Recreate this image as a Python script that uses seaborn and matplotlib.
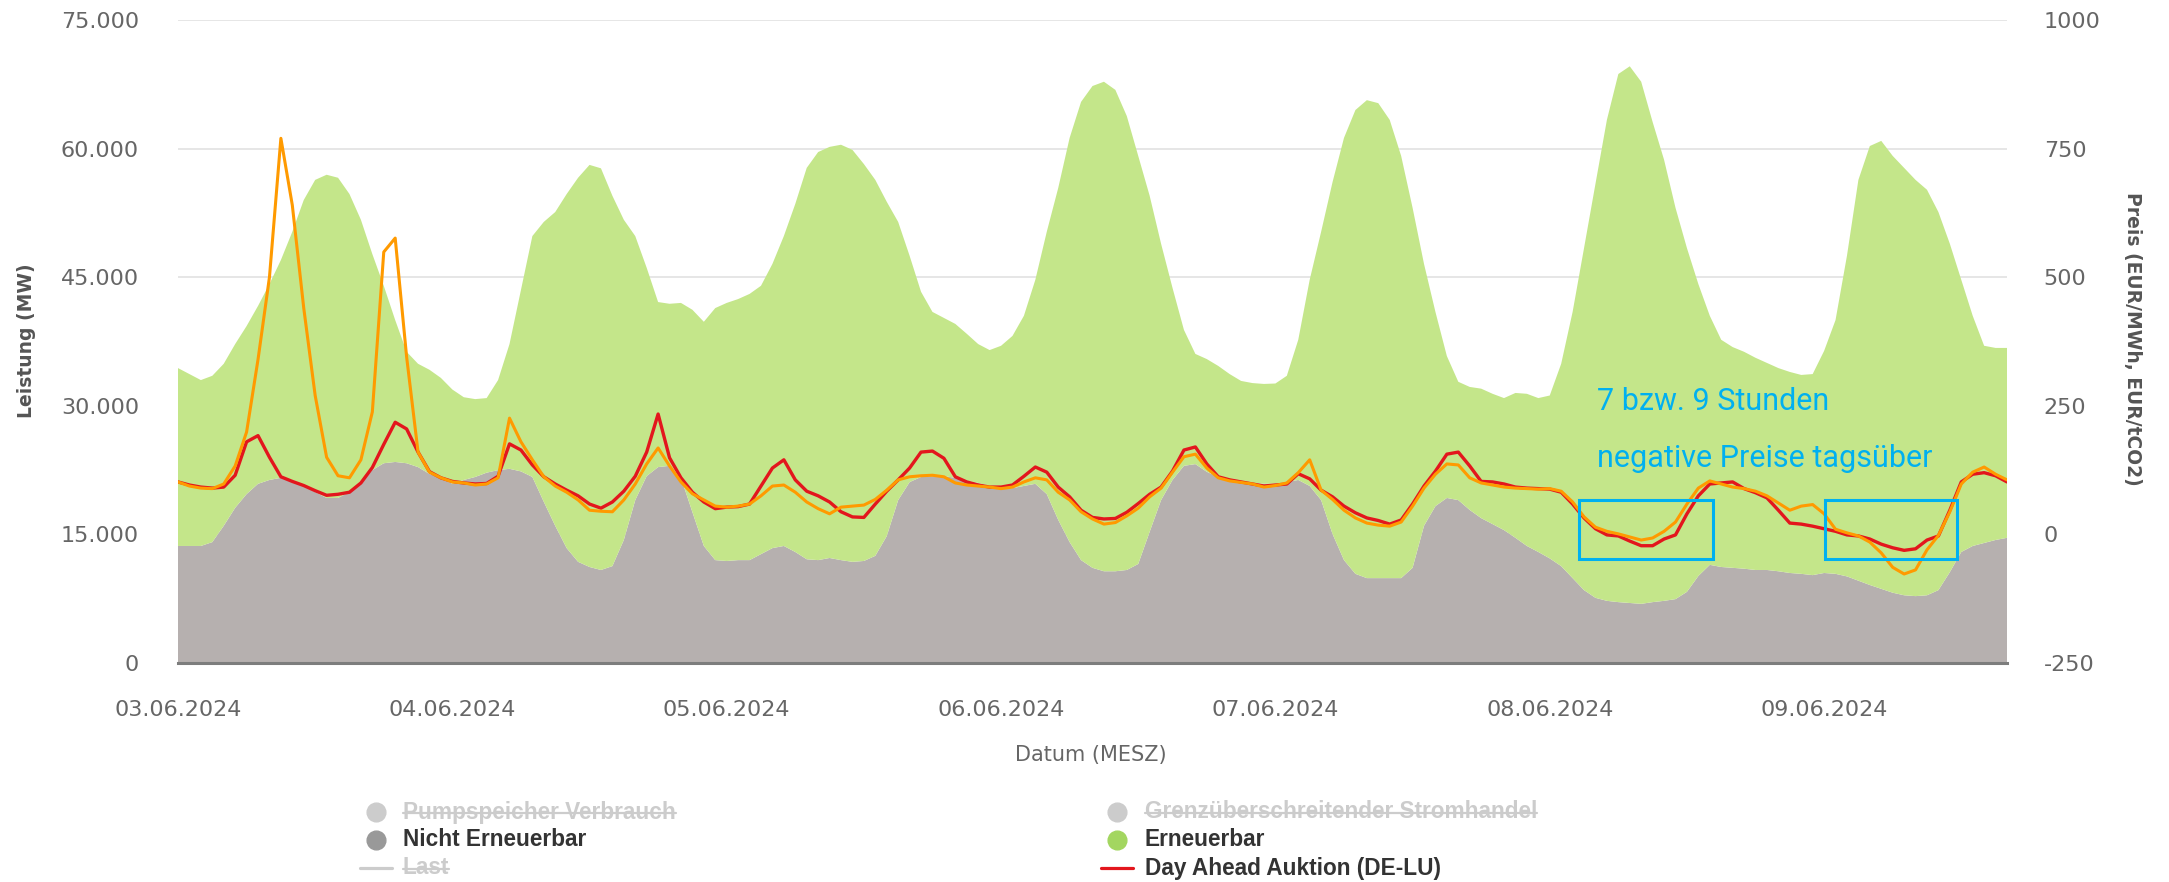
import numpy as np
import pandas as pd
import matplotlib
matplotlib.use("Agg")
import matplotlib.pyplot as plt
import seaborn as sns
from matplotlib.lines import Line2D
from matplotlib.patches import Rectangle

# ---------------- data (hourly, starting 03.06.2024 00:00) ----------------
tage = ["03.06.2024", "04.06.2024", "05.06.2024", "06.06.2024",
        "07.06.2024", "08.06.2024", "09.06.2024"]
leistung_ticks = ["0", "15.000", "30.000", "45.000", "60.000", "75.000"]
preis_ticks = ["-250", "0", "250", "500", "750", "1000"]

# top of stacked area (Nicht Erneuerbar + Erneuerbar), MW
gesamt = [
    34400, 33700, 33000, 33500, 34900, 37200, 39300, 41650, 44200, 47000, 50300, 54000,
    56350, 56950, 56600, 54700, 51700, 47700, 44000, 40000, 36300, 34900, 34200, 33250,
    31900, 31000, 30780, 30900, 33000, 37200, 43500, 49800, 51450, 52600, 54700, 56600,
    58100, 57700, 54500, 51700, 49800, 46100, 42100, 41900, 42000, 41200, 39800, 41400,
    42000, 42450, 43050, 44000, 46550, 49800, 53550, 57750, 59600, 60200, 60450, 59850,
    58200, 56350, 53800, 51450, 47500, 43300, 40950, 40250, 39550, 38400, 37200, 36500,
    37000, 38150, 40500, 44700, 50300, 55400, 61250, 65450, 67300, 67800, 66850, 63800,
    59150, 54500, 48900, 43750, 38850, 36050, 35450, 34650, 33700, 32900, 32650, 32550,
    32600, 33500, 37700, 44700, 50300, 56100, 61250, 64500, 65650, 65300, 63350, 59150,
    53100, 46550, 40950, 35800, 32800, 32200, 32000, 31400, 30900, 31500, 31400, 30900,
    31200, 34900, 40950, 48400, 55900, 63350, 68700, 69600, 67800, 63100, 58700, 53100,
    48400, 44200, 40500, 37700, 36850, 36300, 35600, 35000, 34400, 33950, 33600, 33700,
    36400, 40000, 47500, 56350, 60300, 60900, 59150, 57750, 56350, 55200, 52600, 48900,
    44700, 40500, 37000, 36750, 36750,
]
nicht_erneuerbar = [
    13650, 13650, 13650, 14100, 16000, 18100, 19700, 20900, 21350, 21600, 21350, 20650,
    19950, 19250, 19250, 19950, 21100, 22500, 23300, 23450, 23300, 22850, 22050, 21600,
    20900, 21350, 21700, 22200, 22500, 22650, 22350, 21700, 18800, 16000, 13400, 11800,
    11200, 10850, 11300, 14350, 19000, 21800, 22850, 23000, 21600, 17600, 13650, 12000,
    11900, 12000, 12000, 12700, 13400, 13650, 12950, 12100, 12000, 12250, 12000, 11800,
    11900, 12500, 14800, 19000, 21100, 21700, 21800, 21800, 21600, 21250, 21000, 20650,
    20300, 20400, 20650, 20900, 19700, 16700, 14100, 12000, 11100, 10700, 10700, 10850,
    11550, 15300, 19000, 21350, 23000, 23200, 22300, 21700, 21350, 21100, 21000, 20900,
    20900, 21100, 21350, 20650, 19000, 15050, 12000, 10400, 9900, 9900, 9900, 9900,
    11100, 16000, 18300, 19250, 19000, 17850, 16900, 16200, 15500, 14600, 13650, 12950,
    12200, 11300, 9900, 8500, 7600, 7250, 7100, 7000, 6900, 7100, 7250, 7450,
    8300, 10150, 11450, 11200, 11100, 11000, 10850, 10850, 10700, 10500, 10400, 10250,
    10500, 10400, 10100, 9600, 9100, 8650, 8200, 7900, 7800, 7900, 8500, 10600,
    12950, 13650, 14000, 14350, 14600,
]
# prices EUR/MWh
day_ahead = [
    102, 96, 92, 90, 92, 115, 180, 192, 150, 112, 103, 95, 85, 76, 78, 82, 100, 130, 175, 218, 205, 160, 122, 110,
    103, 100, 98, 99, 113, 176, 164, 135, 112, 98, 86, 75, 59, 51, 63, 84, 113, 160, 234, 149, 110, 82, 63, 50,
    53, 54, 59, 94, 129, 145, 106, 84, 75, 63, 44, 34, 33, 59, 84, 106, 129, 160, 162, 148, 112, 102, 96, 92,
    92, 96, 113, 131, 121, 92, 73, 47, 33, 30, 31, 43, 60, 78, 92, 123, 164, 170, 137, 112, 106, 102, 98, 94,
    96, 98, 118, 108, 86, 73, 55, 42, 32, 27, 20, 28, 59, 94, 123, 156, 160, 133, 103, 102, 98, 92, 90, 89,
    88, 82, 59, 32, 11, -1, -3, -13, -22, -22, -9, -1, 40, 75, 98, 100, 102, 89, 81, 71, 47, 22, 20, 16,
    11, 6, -1, -3, -9, -19, -26, -31, -28, -11, -3, 47, 102, 117, 120, 114, 102,
]
intraday = [
    102, 94, 90, 89, 98, 133, 199, 340, 500, 770, 640, 440, 270, 150, 114, 110, 145, 238, 549, 576, 345, 160, 121, 110,
    102, 100, 96, 98, 110, 226, 180, 145, 112, 94, 82, 67, 47, 45, 44, 67, 98, 137, 168, 133, 102, 79, 67, 55,
    53, 55, 59, 75, 94, 96, 82, 63, 50, 40, 53, 55, 57, 68, 86, 106, 112, 114, 115, 112, 100, 96, 94, 92,
    89, 92, 102, 110, 106, 82, 67, 44, 30, 20, 23, 36, 51, 73, 90, 121, 151, 156, 129, 110, 104, 101, 98, 92,
    95, 100, 120, 145, 86, 68, 47, 32, 22, 18, 16, 24, 55, 90, 117, 137, 135, 110, 100, 96, 92, 90, 89, 88,
    89, 84, 63, 34, 14, 6, 1, -5, -11, -7, 6, 24, 59, 90, 104, 98, 92, 89, 84, 75, 61, 47, 55, 58,
    40, 10, 3, -3, -15, -36, -64, -77, -69, -30, -2, 44, 98, 121, 131, 117, 106,
]

stunden = np.arange(len(gesamt))
erneuerbar = np.array(gesamt) - np.array(nicht_erneuerbar)
df = pd.DataFrame({"stunde": stunden, "day_ahead": day_ahead, "intraday": intraday})

# ---------------- style ----------------
sns.set_theme(style="white")
plt.rcParams["font.family"] = ["DejaVu Sans"]

W, H = 2169, 882
def fx(px):
    return px / W
def fy(py):
    return 1 - py / H

fig = plt.figure(figsize=(W / 100, H / 100), dpi=100)
fig.patch.set_facecolor("white")
L, R, T, B = 178, 2007, 20, 663
ax = fig.add_axes([fx(L), fy(B), (R - L) / W, (B - T) / H])

GRAY = "#b6b0af"
GREEN = "#c4e68a"
ax.stackplot(stunden, nicht_erneuerbar, erneuerbar, colors=[GRAY, GREEN],
             edgecolor="none", linewidth=0)
ax.set_xlim(0, 160)
ax.set_ylim(0, 75000)
ax.set_yticks(np.arange(0, 75001, 15000))
ax.set_yticklabels(leistung_ticks)
ax.set_xticks(np.arange(0, 145, 24))
ax.set_xticklabels(tage)
ax.grid(axis="y", color="#e4e4e4", linewidth=1.3)
ax.grid(axis="x", visible=False)
ax.set_axisbelow(True)
for s in ["top", "left", "right"]:
    ax.spines[s].set_visible(False)
ax.spines["bottom"].set_color("#7d7d7d")
ax.spines["bottom"].set_linewidth(2.2)
ax.tick_params(axis="y", length=0, pad=28, labelsize=16, labelcolor="#666666")
ax.tick_params(axis="x", length=0, pad=27, labelsize=16, labelcolor="#666666")
ax.set_xlabel("")
ax.set_ylabel("")

ax2 = ax.twinx()
sns.lineplot(data=df, x="stunde", y="day_ahead", ax=ax2, color="#e3161d",
             linewidth=2.4, legend=False)
sns.lineplot(data=df, x="stunde", y="intraday", ax=ax2, color="#ff9a00",
             linewidth=2.2, legend=False)
for ln in ax2.lines:
    ln.set_solid_joinstyle("round")
ax2.set_ylim(-250, 1000)
ax2.set_xlim(0, 160)
ax2.set_yticks(np.arange(-250, 1001, 250))
ax2.set_yticklabels(preis_ticks)
ax2.tick_params(axis="y", length=0, pad=26.5, labelsize=16, labelcolor="#666666")
ax2.set_xlabel("")
ax2.set_ylabel("")
ax2.grid(False)
for s in ["top", "left", "right", "bottom"]:
    ax2.spines[s].set_visible(False)

# annotation boxes and text
BLUE = "#00b0f0"
for x0, x1 in [(122.6, 134.3), (144.1, 155.6)]:
    ax2.add_patch(Rectangle((x0, -47.8), x1 - x0, 114.7, fill=False,
                            edgecolor=BLUE, linewidth=2.2, zorder=5))
ax2.text(124.1, 241.8, "7 bzw. 9 Stunden", family=["Roboto", "DejaVu Sans"],
         fontsize=22, color=BLUE, va="baseline", ha="left", zorder=6)
ax2.text(124.1, 131.0, "negative Preise tagsüber", family=["Roboto", "DejaVu Sans"],
         fontsize=22, color=BLUE, va="baseline", ha="left", zorder=6)

# axis titles
fig.text(fx(27), fy(341), "Leistung (MW)", rotation=90, ha="center", va="center",
         fontsize=13.5, fontweight="bold", color="#555555")
fig.text(fx(2132), fy(339), "Preis (EUR/MWh, EUR/tCO2)", rotation=270, ha="center",
         va="center", fontsize=13.5, fontweight="bold", color="#555555")
fig.text(fx(1091), fy(755), "Datum (MESZ)", ha="center", va="center",
         fontsize=15, color="#666666")

# legend (manual, Highcharts-like)
LEG_FONT = ["Liberation Sans", "DejaVu Sans"]
HID = "#cccccc"
entries = [
    # (symbol x, text x, y, kind, symbol colour, label, hidden)
    (376, 403, 812, "circle", HID, "Pumpspeicher Verbrauch", True),
    (376, 403, 840, "circle", "#999999", "Nicht Erneuerbar", False),
    (376, 403, 868, "line", HID, "Last", True),
    (1117, 1145, 812, "circle", HID, "Grenzüberschreitender Stromhandel", True),
    (1117, 1145, 840, "circle", "#a3d660", "Erneuerbar", False),
    (1117, 1145, 868, "line", "#e3161d", "Day Ahead Auktion (DE-LU)", False),
]
hidden_texts = []
for sx, tx, y, kind, col, label, hidden in entries:
    if kind == "circle":
        fig.add_artist(Line2D([fx(sx)], [fy(y)], marker="o", markersize=13.5,
                              markerfacecolor=col, markeredgecolor=col,
                              linestyle="none", transform=fig.transFigure))
    else:
        fig.add_artist(Line2D([fx(sx - 16), fx(sx + 16)], [fy(y), fy(y)], color=col,
                              linewidth=2.3, transform=fig.transFigure))
    t = fig.text(fx(tx), fy(y), label, ha="left", va="center", family=LEG_FONT,
                 fontsize=16.3, fontweight="bold",
                 color=HID if hidden else "#333333")
    if hidden:
        hidden_texts.append(t)

fig.canvas.draw()
rend = fig.canvas.get_renderer()
inv = fig.transFigure.inverted()
for t in hidden_texts:
    bb = t.get_window_extent(rend)
    (x0, y0), (x1, y1) = inv.transform([[bb.x0, bb.y0], [bb.x1, bb.y1]])
    ym = y0 + (y1 - y0) * 0.45
    fig.add_artist(Line2D([x0, x1], [ym, ym], color=HID, linewidth=1.6,
                          transform=fig.transFigure))

fig.savefig("out.png", dpi=100, facecolor="white")
